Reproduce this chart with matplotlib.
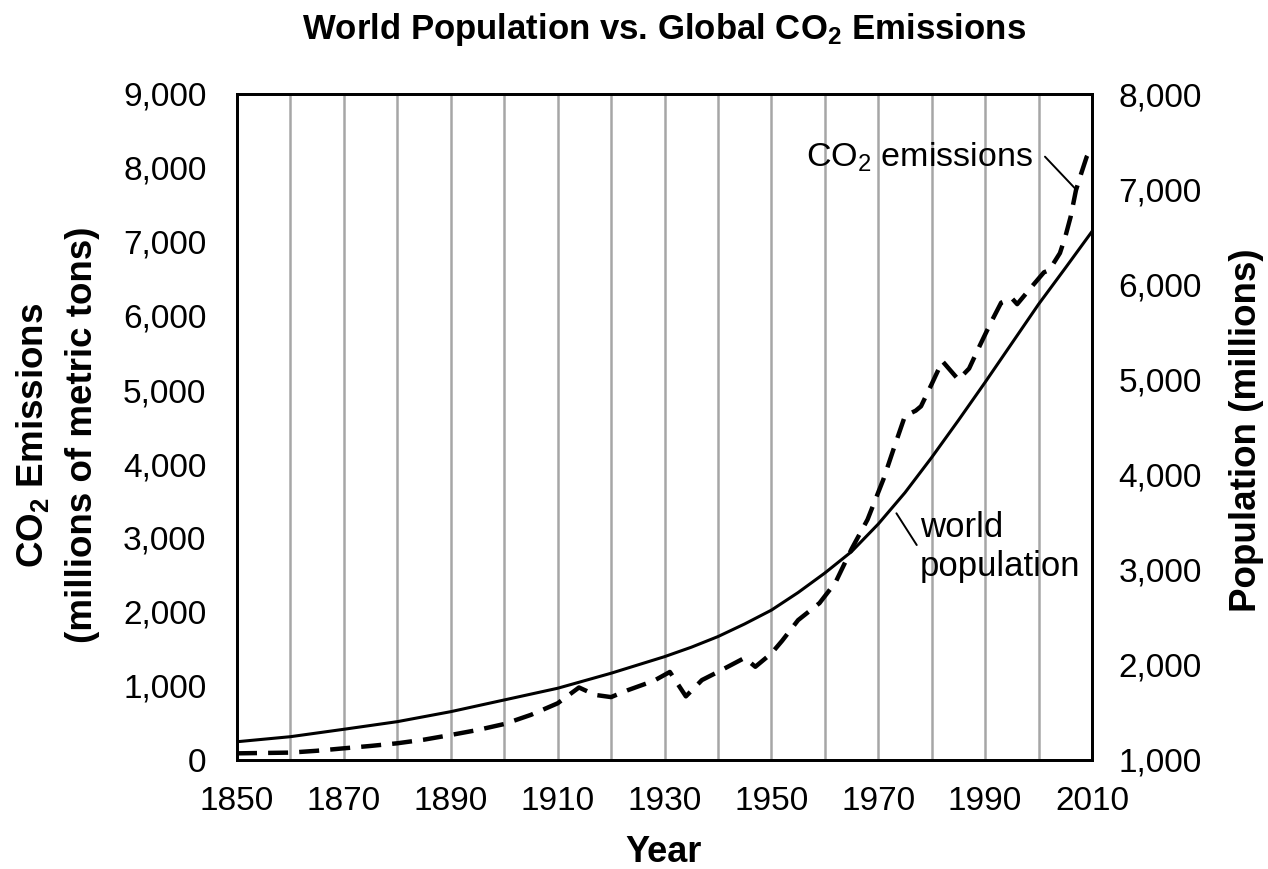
import matplotlib
matplotlib.use('Agg')
import matplotlib.pyplot as plt
from matplotlib.ticker import MultipleLocator, FuncFormatter

plt.rcParams['font.family'] = 'Liberation Sans'
plt.rcParams['mathtext.fontset'] = 'custom'
plt.rcParams['mathtext.rm'] = 'Liberation Sans'
plt.rcParams['mathtext.it'] = 'Liberation Sans:italic'
plt.rcParams['mathtext.bf'] = 'Liberation Sans:bold'

# CO2 emissions, millions of metric tons (left axis)
co2_years = [1850, 1855, 1860, 1865, 1870, 1875, 1880, 1885, 1890, 1895, 1900,
             1905, 1910, 1914, 1917, 1920, 1923, 1928, 1931, 1934, 1937, 1940,
             1945, 1947, 1950, 1952, 1955, 1959, 1962, 1965, 1968, 1971, 1973,
             1975, 1977, 1978, 1980, 1982, 1985, 1987, 1989, 1991, 1993, 1995,
             1996, 1999, 2001, 2002, 2004, 2005, 2006, 2007, 2008, 2009, 2010]
co2_values = [90, 95, 100, 125, 158, 190, 226, 275, 338, 405, 486,
              610, 766, 980, 880, 850, 940, 1070, 1190, 860, 1080, 1190,
              1380, 1260, 1440, 1610, 1890, 2120, 2400, 2850, 3250, 3800, 4230,
              4650, 4720, 4780, 5080, 5390, 5140, 5290, 5600, 5900, 6180, 6240,
              6160, 6420, 6590, 6620, 6850, 7070, 7340, 7700, 7930, 8150, 8290]

# world population, millions (right axis)
pop_years = [1850, 1860, 1870, 1880, 1890, 1900, 1910, 1920, 1930, 1935, 1940,
             1945, 1950, 1955, 1960, 1965, 1970, 1975, 1980, 1985, 1990, 1995,
             2000, 2005, 2010]
pop_values = [1192, 1245, 1323, 1403, 1508, 1631, 1754, 1912, 2086, 2185, 2297,
              2430, 2575, 2760, 2965, 3190, 3480, 3810, 4180, 4570, 4970, 5380,
              5790, 6170, 6555]

x_ticks = list(range(1850, 2011, 20))

W, H = 1268, 869
fig = plt.figure(figsize=(W / 100, H / 100), dpi=100)
ax = fig.add_axes([237 / W, 1 - 760 / H, (1092 - 237) / W, (760 - 94) / H])
ax2 = ax.twinx()

ax.set_xlim(1850, 2010)
ax.set_ylim(0, 9000)
ax2.set_ylim(1000, 8000)

ax.set_xticks(x_ticks)
ax.xaxis.set_minor_locator(MultipleLocator(10))
ax.grid(True, which='both', axis='x', color='#a6a6a6', lw=1.8)
ax.set_axisbelow(True)
ax.set_yticks(range(0, 9001, 1000))
ax2.set_yticks(range(1000, 8001, 1000))

fmt = FuncFormatter(lambda v, p: f'{v:,.0f}')
ax.yaxis.set_major_formatter(fmt)
ax2.yaxis.set_major_formatter(fmt)

ax.tick_params(axis='both', which='both', length=0, labelsize=24)
ax.tick_params(axis='x', pad=19)
ax.tick_params(axis='y', pad=22)
ax2.tick_params(axis='y', length=0, labelsize=24, pad=19)

for a in (ax, ax2):
    for s in a.spines.values():
        s.set_color('black')
        s.set_linewidth(2.0)

ax.plot(co2_years, co2_values, color='black', lw=3.2, dashes=(4.5, 2.5))
ax2.plot(pop_years, pop_values, color='black', lw=2.2)

# leader lines and labels
ax.annotate('', xy=(2001.2, 8153), xytext=(2006.8, 7726),
            arrowprops=dict(arrowstyle='-', lw=1.4, color='black', shrinkA=0, shrinkB=0))
ax.text(1999.0, 8150, r'CO$_2$ emissions', fontsize=24.5, ha='right', va='center')
ax.annotate('', xy=(1973.4, 3334), xytext=(1977.2, 2905),
            arrowprops=dict(arrowstyle='-', lw=1.4, color='black', shrinkA=0, shrinkB=0))
ax.text(1977.8, 2880, 'world\npopulation', fontsize=25, ha='left', va='center',
        linespacing=1.25)

fig.text(664 / W, 1 - 29 / H, r'World Population vs. Global CO$_\mathbf{2}$ Emissions',
         fontsize=25, fontweight='bold', ha='center', va='center')
fig.text(664 / W, 1 - 852 / H, 'Year', fontsize=26, fontweight='bold',
         ha='center', va='center')
fig.text(57 / W, 1 - 435 / H, 'CO$_\\mathbf{2}$ Emissions\n(millions of metric tons)',
         fontsize=26.5, fontweight='bold', rotation=90, ha='center', va='center',
         linespacing=1.55)
fig.text(1247 / W, 1 - 430 / H, 'Population (millions)', fontsize=26.5,
         fontweight='bold', rotation=90, ha='center', va='center')

fig.savefig('out.png', dpi=100)
